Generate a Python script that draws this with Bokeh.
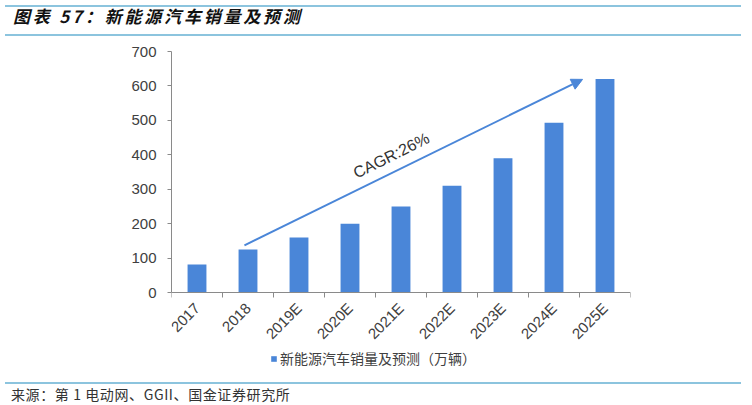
import math
from bokeh.plotting import figure
from bokeh.models import (Range1d, ColumnDataSource, FixedTicker, Arrow, NormalHead,
                          Label, Legend, LegendItem, Div)
from bokeh.layouts import column
from bokeh.embed import file_html
from bokeh.resources import INLINE

categories = ["2017", "2018", "2019E", "2020E", "2021E", "2022E", "2023E", "2024E", "2025E"]
sales = [81, 125, 160, 200, 250, 310, 390, 493, 620]
y_ticks = [0, 100, 200, 300, 400, 500, 600, 700]
title_text = "图表 57：新能源汽车销量及预测"
series_name = "新能源汽车销量及预测（万辆）"
source_text = "来源：第 1 电动网、GGII、国金证券研究所"
cagr_text = "CAGR:26%"
# arrow start/end (category index position, value)
arrow_x = [1.93, 8.56]
arrow_y = [137, 619]

BAR = "#4a86d8"
LINE = "#8cc4de"
TXT = "#404040"
FONT = "Liberation Sans"
CJK = "Noto Sans CJK SC"

FIG_H = 336
TOP = 10
BOTTOM = 4
frame_h = FIG_H - TOP - BOTTOM
plot_px = 241  # pixels from 700 down to 0
y_low = -(frame_h - plot_px) * 700 / plot_px

xs = [i + 1 for i in range(len(categories))]
src = ColumnDataSource(dict(x=xs, y=sales, name=categories))

p = figure(width=736, height=FIG_H, output_backend="svg", toolbar_location=None,
           x_range=Range1d(0.5, len(categories) + 0.5), y_range=Range1d(y_low, 700),
           min_border_left=171, min_border_right=106, min_border_top=TOP,
           min_border_bottom=BOTTOM)
p.outline_line_color = None
p.grid.visible = False

r = p.vbar(x="x", top="y", width=0.37, source=src, fill_color=BAR, line_color=None)

# x axis, drawn at value 0
xa = p.xaxis[0]
xa.fixed_location = 0
xa.ticker = FixedTicker(ticks=xs, minor_ticks=[i + 0.5 for i in range(len(categories) + 1)])
xa.major_label_overrides = {x: c for x, c in zip(xs, categories)}
xa.major_label_orientation = math.pi / 4
xa.major_tick_out = 0
xa.major_tick_in = 0
xa.minor_tick_out = 5
xa.minor_tick_in = 0
xa.minor_tick_line_color = "#8a8a8a"
xa.axis_line_color = "#8a8a8a"
xa.major_label_text_font = FONT
xa.major_label_text_font_size = "15px"
xa.major_label_text_color = TXT
xa.major_label_standoff = 8

ya = p.yaxis[0]
ya.bounds = (0, 700)
ya.ticker = FixedTicker(ticks=y_ticks)
ya.minor_tick_line_color = None
ya.major_tick_out = 4
ya.major_tick_in = 0
ya.major_tick_line_color = "#8a8a8a"
ya.axis_line_color = "#8a8a8a"
ya.major_label_text_font = FONT
ya.major_label_text_font_size = "15px"
ya.major_label_text_color = TXT
ya.major_label_standoff = 11

p.add_layout(Arrow(x_start=arrow_x[0], y_start=arrow_y[0], x_end=arrow_x[1], y_end=arrow_y[1],
                   line_color=BAR, line_width=2,
                   end=NormalHead(size=11, fill_color=BAR, line_color=BAR)))

p.add_layout(Label(x=4.81, y=398, text=cagr_text, angle=26.5, angle_units="deg",
                   text_align="center", text_baseline="middle", text_font=FONT,
                   text_font_size="16px", text_color="#333333"))

legend = Legend(items=[LegendItem(label=series_name, renderers=[r])],
                orientation="horizontal", location=(99, 5),
                label_text_font=CJK, label_text_font_size="14px", label_text_color=TXT,
                glyph_width=7, glyph_height=7, border_line_color=None,
                background_fill_alpha=0,
                padding=2, margin=0, spacing=2, label_standoff=3)
p.add_layout(legend, "center")

title = Div(text=title_text, width=736, height=31,
            styles={"border-top": f"2px solid {LINE}", "border-bottom": f"2px solid {LINE}",
                    "font-family": CJK, "font-size": "17px", "font-weight": "bold",
                    "font-style": "italic", "color": "#111111", "line-height": "18px",
                    "letter-spacing": "2.8px",
                    "padding-left": "8px", "box-sizing": "border-box"})
footer = Div(text=source_text, width=736, height=22,
             styles={"border-top": f"2px solid {LINE}", "font-family": CJK,
                     "font-size": "14px", "color": "#333333", "line-height": "20px",
                     "letter-spacing": "0.6px",
                     "padding-left": "6px", "box-sizing": "border-box"})

layout = column(title, p, footer, spacing=0)
open("out.html", "w").write(file_html(layout, INLINE))
